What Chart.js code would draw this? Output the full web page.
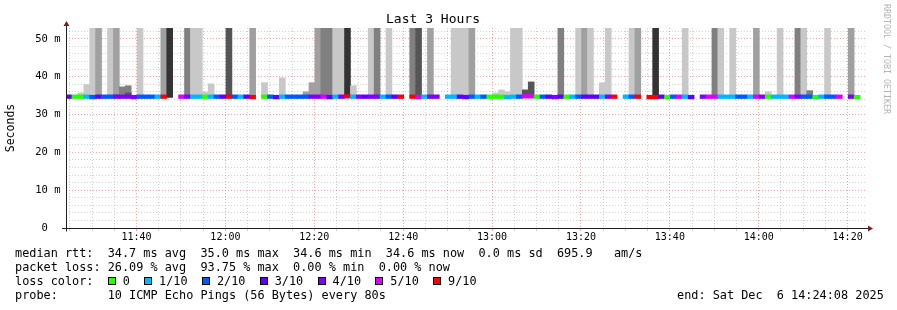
<!DOCTYPE html>
<html>
<head>
<meta charset="utf-8">
<script src="https://cdn.jsdelivr.net/npm/chart.js@4.4.0/dist/chart.umd.min.js"></script>
<style>
  body { margin: 0; background: #fff; }
  #wrap { position: relative; width: 897px; height: 310px; overflow: hidden; }
  #chart { position: absolute; left: 0; top: 0; }
  .txt { position: absolute; font-family: "DejaVu Sans Mono", monospace; font-size: 11.85px; line-height: 14px; white-space: pre; color: #000; }
  .box { display: inline-block; width: 6px; height: 6px; border: 1px solid #000; margin-right: 7px; vertical-align: 0px; }
  #mark { position: absolute; left: 882px; top: 4px; writing-mode: vertical-rl; font-family: "DejaVu Sans Mono", monospace; font-size: 8.3px; color: #b4b4b4; white-space: pre; }
</style>
</head>
<body>
<div id="wrap">
  <canvas id="chart" width="897" height="310"></canvas>
  <div id="mark">RRDTOOL / TOBI OETIKER</div>
  <div class="txt" style="left:15px;top:246px">median rtt:  34.7 ms avg  35.0 ms max  34.6 ms min  34.6 ms now  0.0 ms sd  695.9   am/s</div>
  <div class="txt" style="left:15px;top:260px">packet loss: 26.09 % avg  93.75 % max  0.00 % min  0.00 % now</div>
  <div class="txt" id="lossLegend" style="left:15px;top:274px">loss color:  </div>
  <div class="txt" style="left:15px;top:288px">probe:       10 ICMP Echo Pings (56 Bytes) every 80s</div>
  <div class="txt" id="endText" style="left:677px;top:288px"></div>
</div>
<script>
// Time range of the graph
const endTime = new Date(2025, 11, 6, 14, 24, 8);
const endLabel = 'end: Sat Dec  6 14:24:08 2025';
const spanSeconds = 3 * 3600;
const stepSeconds = 80;

// Median RTT per 80s step (ms), null = no data
const median = [
    34.7, 34.7, 34.7, 34.7, 34.6, 34.7, 34.7, 34.7, 34.7, 34.7,
    34.7, 34.6, 34.7, 34.7, 34.7, 34.7, 34.7, null, null, 34.7,
    34.7, 34.7, 34.7, 34.7, 34.7, 34.7, 34.7, 34.7, 34.7, 34.7,
    34.7, 34.6, null, 34.7, 34.7, 34.6, 34.7, 34.7, 34.7, 34.7,
    34.7, 34.7, 34.7, 34.7, 34.6, 34.7, 34.7, 34.8, 34.7, 34.7,
    34.7, 34.7, 34.7, 34.7, 34.7, 34.7, 34.7, null, 34.7, 34.6,
    34.7, 34.7, 34.7, null, 34.7, 34.7, 34.7, 34.6, 34.7, 34.7,
    34.7, 34.7, 34.7, 34.7, 34.6, 34.7, 34.7, 34.8, 34.8, 34.7,
    34.7, 34.7, 34.6, 34.7, 34.7, 34.7, 34.7, 34.7, 34.7, 34.7,
    34.7, 34.7, 34.7, null, 34.7, 34.7, 34.7, null, 34.6, 34.6,
    34.7, 34.6, 34.7, 34.7, 34.7, 34.6, null, 34.7, 34.7, 34.7,
    34.7, 34.7, 34.7, 34.7, 34.7, 34.7, 34.7, 34.7, 34.7, 34.7,
    34.7, 34.7, 34.7, 34.7, 34.7, 34.7, 34.6, 34.7, 34.7, 34.7,
    34.7, null, 34.7, 34.6, null
];

// Lost pings out of 10 per step
const loss = [
    3, 0, 0, 1, 2, 3, 2, 2, 4, 4,
    4, 4, 2, 2, 2, 1, 9, null, null, 5,
    4, 1, 1, 0, 1, 2, 3, 9, 2, 1,
    3, 9, null, 0, 2, 3, 1, 2, 2, 2,
    2, 4, 4, 5, 3, 1, 4, 9, 1, 4,
    3, 4, 4, 1, 2, 3, 9, null, 9, 5,
    1, 4, 4, null, 1, 1, 3, 3, 2, 1,
    2, 0, 0, 0, 1, 1, 2, 5, 5, 0,
    2, 3, 4, 3, 0, 1, 2, 3, 3, 3,
    1, 4, 9, null, 1, 2, 9, null, 9, 9,
    3, 0, 2, 5, 1, 3, null, 4, 5, 5,
    1, 1, 1, 2, 2, 1, 5, 4, 0, 1,
    1, 1, 5, 4, 2, 2, 0, 1, 2, 2,
    5, null, 4, 0, null
];

// Top of the smoke per step (ms, 53 = clipped at the top), null = no smoke
const smokeTop = [
    null, null, 35.7, 37.9, 53, 53, null, 53, 53, 37.3,
    37.6, null, 53, null, null, null, 53, 53, null, null,
    53, 53, 53, 35.9, 38.1, null, null, 53, null, null,
    null, 53, null, 38.4, null, null, 39.7, null, null, null,
    36.0, 38.4, 53, 53, 53, 53, 53, 53, 37.6, null,
    null, 53, 53, null, 53, null, null, null, 53, 53,
    null, 53, null, null, null, 53, 53, 53, 53, null,
    null, null, 35.7, 36.5, 36.0, 53, 53, 36.5, 38.6, null,
    null, null, null, 53, null, null, 53, 53, 53, null,
    38.4, 53, null, null, null, 53, 53, null, null, 53,
    null, null, null, null, 53, null, null, null, null, 53,
    53, null, 53, null, null, null, 53, null, 36.0, null,
    53, null, null, 53, 53, 36.3, null, null, 53, null,
    null, null, 53, null, null
];

// Smoke darkness per step (1 light .. 5 darkest)
const smokeShade = [
    0, 0, 1, 1, 1, 2, 0, 1, 2, 3,
    3, 0, 1, 0, 0, 0, 2, 5, 0, 0,
    3, 1, 1, 1, 1, 0, 0, 4, 0, 0,
    0, 2, 0, 1, 0, 0, 1, 0, 0, 0,
    2, 2, 2, 3, 3, 1, 1, 5, 1, 0,
    0, 1, 3, 0, 1, 0, 0, 0, 3, 4,
    0, 2, 0, 0, 0, 1, 1, 1, 2, 0,
    0, 0, 1, 1, 1, 1, 1, 4, 4, 0,
    0, 0, 0, 3, 0, 0, 1, 2, 1, 0,
    1, 1, 0, 0, 0, 1, 2, 0, 0, 5,
    0, 0, 0, 0, 1, 0, 0, 0, 0, 3,
    1, 0, 1, 0, 0, 0, 2, 0, 1, 0,
    1, 0, 0, 3, 1, 3, 0, 0, 1, 0,
    0, 0, 2, 0, 0
];

// Darker inner smoke on a few steps
const coreStep = [8, 10];
const coreTop = [35.3, 35.7];
const coreShade = [3, 4];

const smokeBase = 34.5;
const shadeColors = ['transparent', '#c8c8c8', '#a0a0a0', '#808080', '#555555', '#333333'];

// Loss legend
const lossLevels = [0, 1, 2, 3, 4, 5, 9];
const lossLabels = ['0', '1/10', '2/10', '3/10', '4/10', '5/10', '9/10'];
const lossColors = ['#26ff00', '#00b8ff', '#0059ff', '#5e00ff', '#7e00ff', '#dd00ff', '#ff0000'];

// y axis: ticks every 2 ms, labelled every 10 ms
const yMax = 52.85;
const yStep = 2;

const startTime = new Date(endTime.getTime() - spanSeconds * 1000);
const stepTime = i => (i + 0.5) * stepSeconds;

function lossColor(n) {
    return lossColors[lossLevels.indexOf(n)];
}

const medianPoints = [];
median.forEach((m, i) => {
    if (m === null || loss[i] === null) return;
    medianPoints.push({ x: stepTime(i), y: [m - 0.48, m + 0.48], c: lossColor(loss[i]) });
});

const smokePoints = [];
smokeTop.forEach((top, i) => {
    if (top === null) return;
    smokePoints.push({ x: stepTime(i), y: [smokeBase, top], c: shadeColors[smokeShade[i]] });
});

const corePoints = coreStep.map((s, k) => ({ x: stepTime(s), y: [smokeBase, coreTop[k]], c: shadeColors[coreShade[k]] }));

// x ticks every 5 minutes on the clock
function timeTicks() {
    const ticks = [];
    const first = Math.ceil(startTime.getTime() / 300000) * 300000;
    for (let t = first; t <= endTime.getTime(); t += 300000) {
        ticks.push({ value: (t - startTime.getTime()) / 1000 });
    }
    return ticks;
}
function clockOf(value) {
    return new Date(startTime.getTime() + value * 1000);
}
function isMajorTime(value) {
    return clockOf(value).getMinutes() % 20 === 0;
}

const minorGrid = 'rgba(143,143,143,0.42)';
const majorGrid = 'rgba(222,79,79,0.5)';
const mono = 'DejaVu Sans Mono';

// axis lines with arrow heads
const axisArrows = {
    id: 'axisArrows',
    afterDatasetsDraw(chart) {
        const { ctx, chartArea: a } = chart;
        const x0 = a.left + 0.5, y0 = Math.round(a.bottom) + 0.5;
        ctx.save();
        ctx.strokeStyle = '#1f1f1f';
        ctx.lineWidth = 1;
        ctx.beginPath();
        ctx.moveTo(a.left - 4, y0);
        ctx.lineTo(a.right + 3, y0);
        ctx.moveTo(x0, y0 + 3);
        ctx.lineTo(x0, a.top - 2);
        ctx.stroke();
        ctx.fillStyle = '#7f1f1f';
        ctx.beginPath();
        ctx.moveTo(x0 - 3, a.top - 2);
        ctx.lineTo(x0 + 3, a.top - 2);
        ctx.lineTo(x0, a.top - 7);
        ctx.closePath();
        ctx.fill();
        ctx.beginPath();
        ctx.moveTo(a.right + 2, y0 - 3);
        ctx.lineTo(a.right + 2, y0 + 3);
        ctx.lineTo(a.right + 7, y0);
        ctx.closePath();
        ctx.fill();
        ctx.restore();
    }
};

const barColor = ctx => (ctx.raw ? ctx.raw.c : 'transparent');

new Chart(document.getElementById('chart'), {
    type: 'bar',
    data: {
        datasets: [
            { label: 'median', data: medianPoints, backgroundColor: barColor },
            { label: 'core', data: corePoints, backgroundColor: barColor },
            { label: 'smoke', data: smokePoints, backgroundColor: barColor }
        ]
    },
    options: {
        responsive: false,
        animation: false,
        events: [],
        layout: { padding: { left: 0, right: 31, top: 0, bottom: 0 } },
        datasets: {
            bar: { grouped: false, barPercentage: 1, categoryPercentage: 1, borderWidth: 0 }
        },
        plugins: {
            legend: { display: false },
            tooltip: { enabled: false },
            title: {
                display: true,
                text: 'Last 3 Hours',
                color: '#000',
                font: { family: mono, size: 13, weight: 'normal', lineHeight: 1.2 },
                padding: { top: 12, bottom: 0.4 }
            }
        },
        scales: {
            x: {
                type: 'linear',
                min: 0,
                max: spanSeconds,
                offset: false,
                afterBuildTicks: scale => { scale.ticks = timeTicks(); },
                afterFit: scale => { scale.height = 82; },
                ticks: {
                    autoSkip: false,
                    maxRotation: 0,
                    minRotation: 0,
                    padding: 0,
                    color: '#000',
                    font: { family: mono, size: 10 },
                    callback: value => {
                        if (!isMajorTime(value)) return '';
                        const d = clockOf(value);
                        return String(d.getHours()).padStart(2, '0') + ':' + String(d.getMinutes()).padStart(2, '0');
                    }
                },
                grid: {
                    offset: false,
                    drawTicks: true,
                    tickLength: 3,
                    color: ctx => (ctx.tick && isMajorTime(ctx.tick.value) ? majorGrid : minorGrid),
                    tickColor: ctx => (ctx.tick && isMajorTime(ctx.tick.value) ? majorGrid : minorGrid)
                },
                border: { display: false, dash: [1, 2] }
            },
            y: {
                min: 0,
                max: yMax,
                afterBuildTicks: scale => {
                    const ticks = [];
                    for (let v = 0; v <= yMax; v += yStep) ticks.push({ value: v });
                    scale.ticks = ticks;
                },
                afterFit: scale => { scale.width = 66; },
                title: {
                    display: true,
                    text: 'Seconds',
                    color: '#000',
                    font: { family: mono, size: 11.5, lineHeight: 1.2 },
                    padding: { top: 4, bottom: 0 }
                },
                ticks: {
                    autoSkip: false,
                    padding: 5.5,
                    color: '#000',
                    font: { family: mono, size: 10.5 },
                    callback: value => {
                        if (value % 10 !== 0) return '';
                        return value === 0 ? '0  ' : value + ' m';
                    }
                },
                grid: {
                    drawTicks: false,
                    color: ctx => {
                        if (!ctx.tick || ctx.tick.value === 0) return 'transparent';
                        return ctx.tick.value % 10 === 0 ? majorGrid : minorGrid;
                    }
                },
                border: { display: false, dash: [1, 2] }
            }
        }
    },
    plugins: [axisArrows]
});

// text legend below the graph
const lossLegend = document.getElementById('lossLegend');
lossLabels.forEach((label, i) => {
    const box = document.createElement('span');
    box.className = 'box';
    box.style.background = lossColors[i];
    lossLegend.appendChild(box);
    lossLegend.appendChild(document.createTextNode(label + (i < lossLabels.length - 1 ? '  ' : '')));
});
document.getElementById('endText').textContent = endLabel;
</script>
</body>
</html>
